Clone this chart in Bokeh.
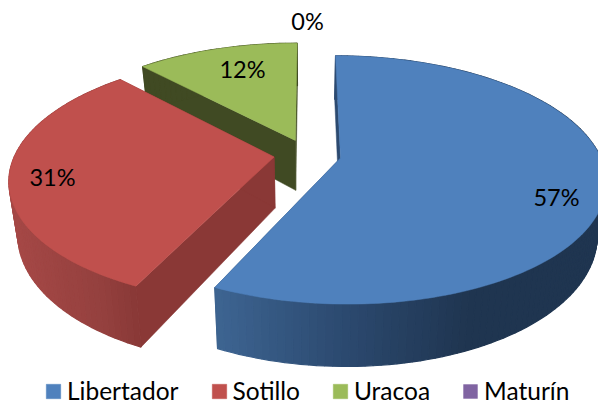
import math
from bokeh.plotting import figure
from bokeh.models import Range1d, ColumnDataSource, Legend, LegendItem
from bokeh.core.properties import value
from bokeh.embed import file_html
from bokeh.resources import INLINE

categories = ["Libertador", "Sotillo", "Uracoa", "Maturín"]
values = [57, 31, 12, 0]
top_colors = ["#4f81bd", "#c0504d", "#9bbb59", "#8064a2"]
face_colors = ["#2c4a70", "#8a3836", "#404a23", "#4c3c61"]
label_xy = [(556, 196), (52, 176), (242, 68), (307, 20)]

# projection of the tilted disc (page pixels)
CX, CY, MX, KY, P = 307.0, 154.0, 259.0, 119.0, 0.177
EXPLODE, DEPTH, SHRINK = 0.13, 51.0, 0.97
FONT = "Lato"


def top(t, r, ex, ey):
    X = r * math.sin(t) + ex
    Y = r * math.cos(t) + ey
    w = 1 + P * Y
    return CX + MX * X / w, CY - KY * Y / w, w


def bottom(t, r, ex, ey):
    x, y, w = top(t, r, ex, ey)
    return CX + (x - CX) * SHRINK, y + DEPTH / w


def shade(x, stops):
    if x <= stops[0][0]:
        return stops[0][1]
    for (x0, c0), (x1, c1) in zip(stops, stops[1:]):
        if x <= x1:
            f = (x - x0) / (x1 - x0)
            return tuple(c0[i] + (c1[i] - c0[i]) * f for i in range(3))
    return stops[-1][1]


def hexc(c):
    return "#%02x%02x%02x" % tuple(int(round(v)) for v in c)


side_stops = [
    [(216, (61, 100, 145)), (340, (44, 74, 112)), (470, (31, 53, 80)), (598, (31, 53, 80))],
    [(12, (165, 72, 70)), (100, (148, 64, 62)), (137, (136, 56, 54))],
    [(0, (64, 74, 35)), (598, (64, 74, 35))],
    [(0, (76, 60, 97)), (598, (76, 60, 97))],
]

p = figure(width=598, height=407, x_range=Range1d(0, 598), y_range=Range1d(407, 0),
           output_backend="svg", toolbar_location=None, min_border=0)
p.axis.visible = False
p.grid.visible = False
p.outline_line_color = None
p.background_fill_color = "white"

total = sum(values)
fracs = [v / total for v in values]
starts = [sum(fracs[:i]) * 2 * math.pi for i in range(len(values))]
order = [2, 1, 0, 3]
renderers = {}
for i in order:
    a0 = starts[i]
    a1 = a0 + fracs[i] * 2 * math.pi
    mid = (a0 + a1) / 2
    ex, ey = EXPLODE * math.sin(mid), EXPLODE * math.cos(mid)
    if i == 3:
        renderers[i] = p.patch([CX], [CY], fill_color=top_colors[i], line_color=None)
        continue
    n = max(2, int(fracs[i] * 240))
    ts = [a0 + (a1 - a0) * k / n for k in range(n + 1)]
    # flat cut faces
    xs, ys = [], []
    for t in (a0, a1):
        ax, ay, _ = top(0, 0, ex, ey)
        bx, by = bottom(0, 0, ex, ey)
        rx, ry, _ = top(t, 1, ex, ey)
        sx, sy = bottom(t, 1, ex, ey)
        xs.append([ax, rx, sx, bx])
        ys.append([ay, ry, sy, by])
    p.patches(xs, ys, fill_color=face_colors[i], line_color=face_colors[i], line_width=0.5)
    # rim, shaded strip by strip
    xs, ys, cs = [], [], []
    for t0, t1 in zip(ts, ts[1:]):
        x0, y0, _ = top(t0, 1, ex, ey)
        x1, y1, _ = top(t1, 1, ex, ey)
        x2, y2 = bottom(t1, 1, ex, ey)
        x3, y3 = bottom(t0, 1, ex, ey)
        xs.append([x0, x1, x2, x3])
        ys.append([y0, y1, y2, y3])
        cs.append(hexc(shade((x0 + x1) / 2, side_stops[i])))
    p.patches("xs", "ys", fill_color="cs", line_color="cs", line_width=1.2,
              source=ColumnDataSource(dict(xs=xs, ys=ys, cs=cs)))
    # top face
    px, py = [top(0, 0, ex, ey)[0]], [top(0, 0, ex, ey)[1]]
    for t in ts:
        x, y, _ = top(t, 1, ex, ey)
        px.append(x)
        py.append(y)
    renderers[i] = p.patch(px, py, fill_color=top_colors[i], line_color=top_colors[i], line_width=0.5)

labels = ["%d%%" % round(100 * f) for f in fracs]
p.text([q[0] for q in label_xy], [q[1] for q in label_xy], text=labels,
       text_font=value(FONT), text_font_size="23.5px", text_color="black",
       text_align="center", text_baseline="middle")

legend = Legend(items=[LegendItem(label=c, renderers=[renderers[i]]) for i, c in enumerate(categories)],
                orientation="horizontal", location=(44, 2), border_line_color=None,
                background_fill_alpha=0, label_text_font=FONT, label_text_font_size="24.5px",
                label_text_color="black", glyph_width=18, glyph_height=18,
                label_standoff=5, spacing=31, padding=8, margin=0)
p.add_layout(legend, "center")

open("out.html", "w").write(file_html(p, INLINE))
